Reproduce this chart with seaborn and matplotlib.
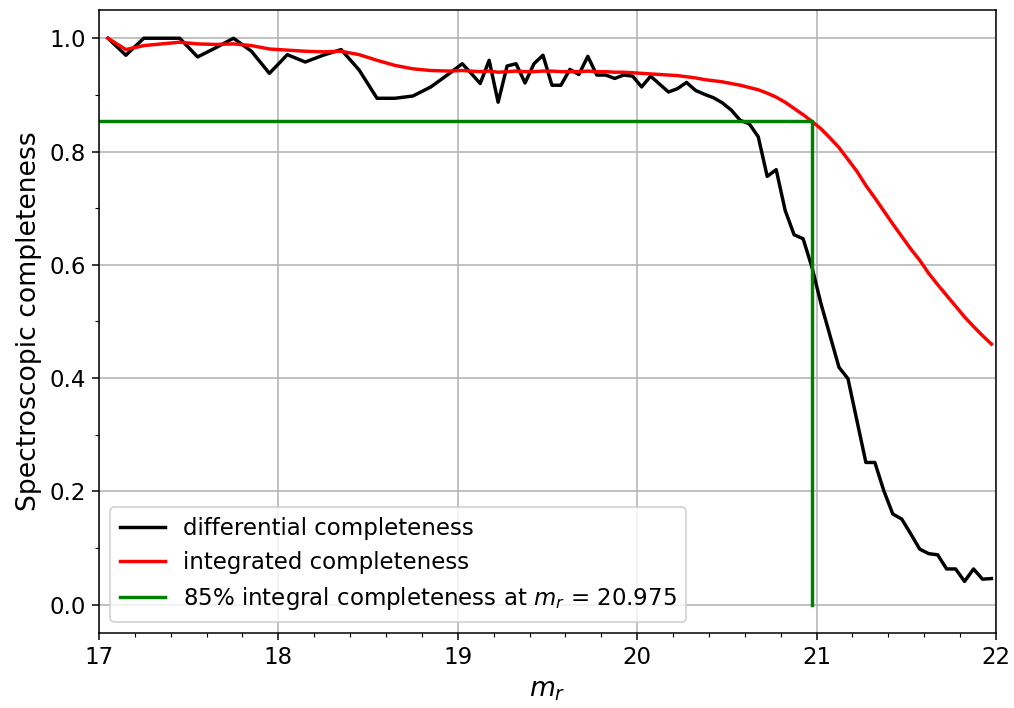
import numpy as np
import pandas as pd
import matplotlib
matplotlib.use("Agg")
import matplotlib.pyplot as plt
from matplotlib.ticker import MultipleLocator
import seaborn as sns

# ---------------- data ----------------
mag_bins = [17.05, 17.15, 17.25, 17.35, 17.45, 17.55, 17.65, 17.75, 17.85, 17.95,
            18.05, 18.15, 18.25, 18.35, 18.45, 18.55, 18.65, 18.75, 18.85, 18.95,
            19.025, 19.075, 19.125, 19.175, 19.225, 19.275, 19.325, 19.375, 19.425, 19.475,
            19.525, 19.575, 19.625, 19.675, 19.725, 19.775, 19.825, 19.875, 19.925, 19.975,
            20.025, 20.075, 20.125, 20.175, 20.225, 20.275, 20.325, 20.375, 20.425, 20.475,
            20.525, 20.575, 20.625, 20.675, 20.725, 20.775, 20.825, 20.875, 20.925, 20.975,
            21.025, 21.075, 21.125, 21.175, 21.225, 21.275, 21.325, 21.375, 21.425, 21.475,
            21.525, 21.575, 21.625, 21.675, 21.725, 21.775, 21.825, 21.875, 21.925, 21.975]

differential = [1.0, 0.970, 1.0, 1.0, 1.0, 0.967, 0.983, 1.0, 0.977, 0.938,
                0.971, 0.958, 0.970, 0.980, 0.944, 0.894, 0.894, 0.898, 0.914, 0.937,
                0.955, 0.938, 0.920, 0.961, 0.887, 0.951, 0.955, 0.921, 0.955, 0.970,
                0.917, 0.917, 0.945, 0.936, 0.968, 0.935, 0.935, 0.929, 0.935, 0.933,
                0.914, 0.933, 0.919, 0.905, 0.911, 0.922, 0.908, 0.901, 0.895, 0.886,
                0.873, 0.855, 0.849, 0.826, 0.756, 0.768, 0.696, 0.653, 0.646, 0.595,
                0.531, 0.475, 0.419, 0.399, 0.325, 0.251, 0.251, 0.201, 0.160, 0.151,
                0.125, 0.098, 0.090, 0.088, 0.063, 0.063, 0.041, 0.063, 0.045, 0.046]

integrated = [1.0, 0.980, 0.987, 0.990, 0.993, 0.990, 0.989, 0.990, 0.987, 0.981,
              0.979, 0.977, 0.976, 0.977, 0.971, 0.961, 0.952, 0.946, 0.943, 0.942,
              0.943, 0.942, 0.941, 0.942, 0.940, 0.941, 0.942, 0.941, 0.941, 0.942,
              0.942, 0.941, 0.941, 0.941, 0.942, 0.941, 0.941, 0.940, 0.940, 0.939,
              0.938, 0.937, 0.936, 0.935, 0.934, 0.932, 0.930, 0.927, 0.925, 0.923,
              0.920, 0.917, 0.913, 0.909, 0.903, 0.896, 0.887, 0.876, 0.865, 0.853,
              0.840, 0.824, 0.807, 0.786, 0.765, 0.740, 0.718, 0.695, 0.672, 0.650,
              0.628, 0.608, 0.585, 0.565, 0.546, 0.527, 0.508, 0.491, 0.475, 0.460]

limit_mag = 20.975
limit_level = 0.853
mag_min, mag_max = 17.0, 22.0

labels = ["differential completeness",
          "integrated completeness",
          "85% integral completeness at $m_r$ = 20.975"]

# ---------------- figure ----------------
DPI = 137
fig = plt.figure(figsize=(1014 / DPI, 708 / DPI), dpi=DPI)
ax = fig.add_axes([0.0976, 0.106, 0.8846, 0.880])

df = pd.DataFrame({"mag": mag_bins, "diff": differential, "integ": integrated})
sns.lineplot(data=df, x="mag", y="diff", color="black", lw=1.8, ax=ax,
             label=labels[0], estimator=None, sort=False)
sns.lineplot(data=df, x="mag", y="integ", color="red", lw=1.8, ax=ax,
             label=labels[1], estimator=None, sort=False)

green = pd.DataFrame({"x": [mag_min, limit_mag, limit_mag],
                      "y": [limit_level, limit_level, 0.0]})
sns.lineplot(data=green, x="x", y="y", color="green", lw=1.8, ax=ax,
             label=labels[2], estimator=None, sort=False)

ax.set_xlim(mag_min, mag_max)
ax.set_ylim(-0.05, 1.05)
ax.xaxis.set_major_locator(MultipleLocator(1))
ax.xaxis.set_minor_locator(MultipleLocator(0.2))
ax.yaxis.set_major_locator(MultipleLocator(0.2))
ax.yaxis.set_minor_locator(MultipleLocator(0.1))
ax.grid(True, which="major", color="#b0b0b0", lw=0.8)
ax.set_axisbelow(True)
ax.tick_params(labelsize=12)
ax.set_xlabel("$m_r$", fontsize=14)
ax.set_ylabel("Spectroscopic completeness", fontsize=14)
ax.legend(loc="lower left", fontsize=12)

fig.savefig("out.png", dpi=DPI)
